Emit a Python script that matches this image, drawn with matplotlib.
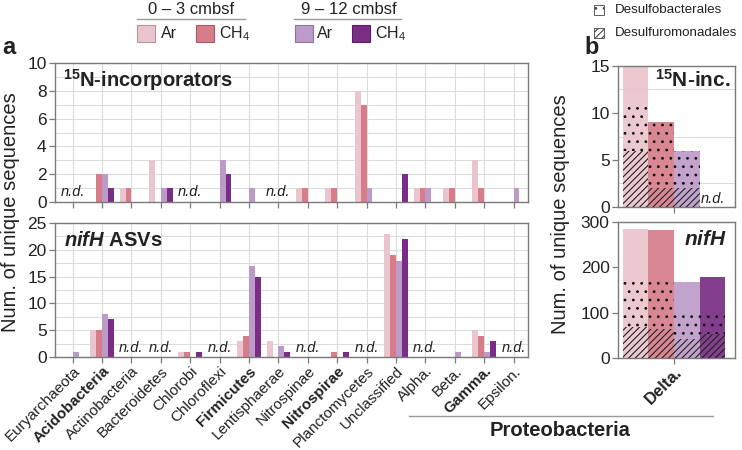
import matplotlib
matplotlib.use('Agg')
import matplotlib.pyplot as plt
import numpy as np
from matplotlib.patches import Rectangle
from matplotlib.lines import Line2D
from matplotlib.ticker import MultipleLocator

plt.rcParams['font.family'] = ['Liberation Sans', 'DejaVu Sans']
plt.rcParams['mathtext.fontset'] = 'custom'
plt.rcParams['mathtext.rm'] = 'Liberation Sans'
plt.rcParams['mathtext.it'] = 'Liberation Sans:italic'
plt.rcParams['mathtext.bf'] = 'Liberation Sans:bold'
plt.rcParams['mathtext.bfit'] = 'Liberation Sans:bold:italic'
plt.rcParams['hatch.linewidth'] = 0.8

# ---------------- data ----------------
categories = ['Euryarchaeota', 'Acidobacteria', 'Actinobacteria', 'Bacteroidetes',
              'Chlorobi', 'Chloroflexi', 'Firmicutes', 'Lentisphaerae', 'Nitrospinae',
              'Nitrospirae', 'Planctomycetes', 'Unclassified', 'Alpha.', 'Beta.',
              'Gamma.', 'Epsilon.']
bold_categories = ['Acidobacteria', 'Firmicutes', 'Nitrospirae', 'Gamma.']
series_labels = ['Ar 0-3', 'CH4 0-3', 'Ar 9-12', 'CH4 9-12']

n15_ar_03 = [0, 0, 1, 3, 0, 0, 0, 0, 1, 1, 8, 0, 1, 1, 3, 0]
n15_ch4_03 = [0, 2, 1, 0, 0, 0, 0, 0, 1, 1, 7, 0, 1, 1, 1, 0]
n15_ar_912 = [0, 2, 0, 1, 0, 3, 1, 0, 0, 0, 1, 0, 1, 0, 0, 1]
n15_ch4_912 = [0, 1, 0, 1, 0, 2, 0, 0, 0, 0, 0, 2, 0, 0, 0, 0]
n15_nd = ['Euryarchaeota', 'Chlorobi', 'Lentisphaerae']

nifh_ar_03 = [0, 5, 0, 0, 1, 0, 3, 3, 0, 0, 0, 23, 0, 0, 5, 0]
nifh_ch4_03 = [0, 5, 0, 0, 1, 0, 4, 0, 0, 1, 0, 19, 0, 0, 4, 0]
nifh_ar_912 = [1, 8, 0, 0, 0, 0, 17, 2, 0, 0, 0, 18, 0, 1, 1, 0]
nifh_ch4_912 = [0, 7, 0, 0, 1, 0, 15, 1, 0, 1, 0, 22, 0, 0, 3, 0]
nifh_nd = ['Actinobacteria', 'Bacteroidetes', 'Chloroflexi', 'Nitrospinae',
           'Planctomycetes', 'Alpha.', 'Epsilon.']

delta_label = 'Delta.'
# order: Ar 0-3, CH4 0-3, Ar 9-12, CH4 9-12
delta_n15_total = [15, 9, 6, 0]
delta_n15_desulfuromonadales = [6, 2, 2, 0]
delta_n15_desulfobacterales = [5, 7, 4, 0]
delta_nifh_total = [285, 283, 168, 178]
delta_nifh_desulfuromonadales = [69, 63, 43, 54]
delta_nifh_desulfobacterales = [110, 109, 59, 48]

colors = ['#EBC5CD', '#D67D89', '#BC9BC8', '#7A2D84']
edge_colors = ['#B7939B', '#A85A66', '#8E7299', '#5A1E62']

# ---------------- layout ----------------
W, H = 742, 450
fig = plt.figure(figsize=(W / 100, H / 100), dpi=100)


def rect(l, t, r, b):
    return [l / W, 1 - b / H, (r - l) / W, (b - t) / H]


def fx(x):
    return x / W


def fy(y):
    return 1 - y / H


GRID = '#DCDCDC'
SPINE = '#7A7A7A'
TXT = '#222222'

offsets = np.array([-0.3, -0.1, 0.1, 0.3])
bw = 0.2
x = np.arange(len(categories))


def style_axes(ax):
    for s in ax.spines.values():
        s.set_color(SPINE)
        s.set_linewidth(1.0)
    ax.tick_params(axis='both', colors=SPINE, length=4, width=0.9,
                   labelcolor=TXT, labelsize=12.5, pad=2)
    ax.set_axisbelow(True)


ax1 = fig.add_axes(rect(55, 63, 528, 202))
ax2 = fig.add_axes(rect(55, 223, 528, 357))

for ax, series, nd, ylim, minor, major, nd_y in [
        (ax1, [n15_ar_03, n15_ch4_03, n15_ar_912, n15_ch4_912], n15_nd, 10, 1, 2, 0.72),
        (ax2, [nifh_ar_03, nifh_ch4_03, nifh_ar_912, nifh_ch4_912], nifh_nd, 25, 2.5, 5, 1.7)]:
    style_axes(ax)
    for k, vals in enumerate(series):
        ax.bar(x + offsets[k], vals, width=bw, color=colors[k], linewidth=0,
               label=series_labels[k], zorder=2)
    for c in nd:
        ax.text(categories.index(c), nd_y, 'n.d.', ha='center', va='center',
                style='italic', fontsize=10.5, color=TXT, zorder=3)
    ax.set_xlim(-0.6, 15.49)
    ax.set_ylim(0, ylim)
    ax.set_xticks(x)
    ax.yaxis.set_major_locator(MultipleLocator(major))
    ax.yaxis.set_minor_locator(MultipleLocator(minor))
    ax.tick_params(axis='y', which='minor', length=0)
    ax.grid(True, which='both', axis='y', color=GRID, linewidth=0.8)
    ax.grid(True, which='major', axis='x', color=GRID, linewidth=0.8)

ax1.tick_params(axis='x', labelbottom=False)
ax2.tick_params(axis='x', pad=1)
ax2.set_xticklabels(categories, rotation=45, ha='right', va='top',
                    rotation_mode='anchor', fontsize=11)
for lbl in ax2.get_xticklabels():
    if lbl.get_text() in bold_categories:
        lbl.set_fontweight('bold')

ax1.text(0.017, 0.875, r'$^{\mathbf{15}}$N-incorporators', transform=ax1.transAxes,
         fontsize=14.5, fontweight='bold', va='center', ha='left', color=TXT)
ax2.text(0.02, 0.87, r'$\mathbfit{nifH}$ ASVs', transform=ax2.transAxes,
         fontsize=14.5, fontweight='bold', va='center', ha='left', color=TXT)

# ---------------- panel b ----------------
axb1 = fig.add_axes(rect(618, 66, 735, 207))
axb2 = fig.add_axes(rect(618, 222, 735, 358))
for ax, tot, dsm, dsb, ylim, major, grid_step in [
        (axb1, delta_n15_total, delta_n15_desulfuromonadales, delta_n15_desulfobacterales, 15, 5, 2.5),
        (axb2, delta_nifh_total, delta_nifh_desulfuromonadales, delta_nifh_desulfobacterales, 300, 100, 100)]:
    style_axes(ax)
    xb = 0 + offsets
    ax.bar(xb, tot, width=bw, color=colors, alpha=0.92, linewidth=0, zorder=2)
    ax.bar(xb, dsb, bottom=dsm, width=bw, facecolor='none', edgecolor='#111111',
           hatch='..', linewidth=0, zorder=3)
    ax.bar(xb, dsm, width=bw, facecolor='none', edgecolor='#222222',
           hatch='/////', linewidth=0, zorder=3)
    ax.set_xlim(-0.437, 0.474)
    ax.set_ylim(0, ylim)
    ax.set_xticks([0])
    ax.yaxis.set_major_locator(MultipleLocator(major))
    ax.yaxis.set_minor_locator(MultipleLocator(grid_step))
    ax.tick_params(axis='y', which='minor', length=0)
    ax.grid(True, which='minor', axis='y', color=GRID, linewidth=0.8)

axb1.tick_params(axis='x', labelbottom=False)
axb1.text(0.3, 0.8, 'n.d.', ha='center', va='center', style='italic',
          fontsize=10.5, color=TXT, zorder=4)
axb2.tick_params(axis='x', pad=1)
axb2.set_xticklabels([delta_label], rotation=45, ha='right', va='top',
                     rotation_mode='anchor', fontsize=12, fontweight='bold')
axb1.text(0.965, 0.9, r'$^{\mathbf{15}}$N-inc.', transform=axb1.transAxes,
          fontsize=15, fontweight='bold', ha='right', va='center', color=TXT)
axb2.text(0.93, 0.87, r'$\mathbfit{nifH}$', transform=axb2.transAxes,
          fontsize=15, fontweight='bold', ha='right', va='center', color=TXT)

# ---------------- figure texts ----------------
fig.text(fx(11), fy(212), 'Num. of unique sequences', rotation=90, ha='center',
         va='center', fontsize=14.5, color=TXT)
fig.text(fx(561), fy(214), 'Num. of unique sequences', rotation=90, ha='center',
         va='center', fontsize=14.5, color=TXT)
fig.text(fx(9), fy(47), 'a', fontsize=17, fontweight='bold', ha='center',
         va='center', color=TXT)
fig.text(fx(592), fy(48), 'b', fontsize=17, fontweight='bold', ha='center',
         va='center', color=TXT)

# Proteobacteria bracket
fig.add_artist(Line2D([fx(409), fx(713)], [fy(416), fy(416)], color='#9A9A9A',
                      linewidth=1.0, transform=fig.transFigure))
fig.text(fx(560), fy(430), 'Proteobacteria', fontsize=14.5, fontweight='bold',
         ha='center', va='center', color=TXT)

# legend panel a
for title, cx, lx0, lx1 in [('0 – 3 cmbsf', 191, 137, 245), ('9 – 12 cmbsf', 349, 294, 401)]:
    fig.text(fx(cx), fy(9), title, fontsize=12, ha='center', va='center', color=TXT)
    fig.add_artist(Line2D([fx(lx0), fx(lx1)], [fy(19), fy(19)], color='#9A9A9A',
                          linewidth=1.0, transform=fig.transFigure))
sq_x = [137, 196, 295, 352]
txt_x = [161, 219, 317, 375]
leg_txt = ['Ar', 'CH$_4$', 'Ar', 'CH$_4$']
for k in range(4):
    fig.add_artist(Rectangle((fx(sq_x[k]), fy(42)), 18 / W, 17 / H,
                             facecolor=colors[k], edgecolor=edge_colors[k],
                             linewidth=0.8, transform=fig.transFigure))
    fig.text(fx(txt_x[k]), fy(33.5), leg_txt[k], fontsize=11.5, ha='left',
             va='center', color=TXT)

# legend panel b
for yy, hatch, label in [(10, '..', 'Desulfobacterales'), (33, '/////', 'Desulfuromonadales')]:
    fig.add_artist(Rectangle((fx(594), fy(yy + 5)), 10 / W, 10 / H,
                             facecolor='white', edgecolor='#444444', hatch=hatch,
                             linewidth=0.6, transform=fig.transFigure))
    fig.text(fx(615), fy(yy), label, fontsize=9.6, ha='left', va='center', color=TXT)

fig.savefig('out.png', dpi=100)
